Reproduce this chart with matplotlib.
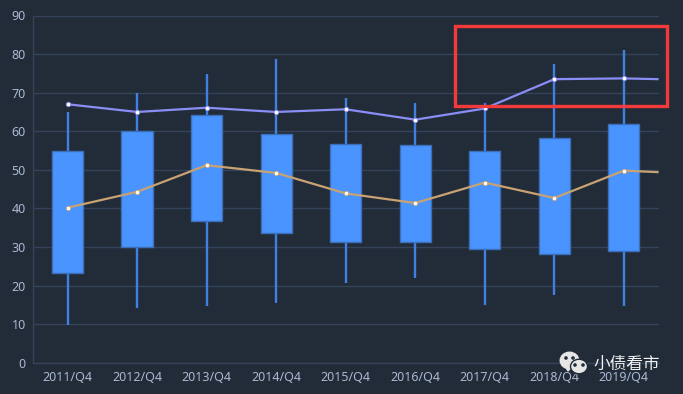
import matplotlib
matplotlib.use("Agg")
import matplotlib.pyplot as plt
from matplotlib.patches import Rectangle, Ellipse, Polygon

categories = ["2011/Q4", "2012/Q4", "2013/Q4", "2014/Q4", "2015/Q4", "2016/Q4", "2017/Q4", "2018/Q4", "2019/Q4"]
box_top = [54.8, 60.0, 64.3, 59.3, 56.8, 56.4, 54.8, 58.3, 62.0]
box_bottom = [23.4, 30.0, 36.7, 33.7, 31.3, 31.2, 29.5, 28.2, 29.0]
whisker_high = [65.0, 70.0, 74.8, 78.8, 68.5, 67.3, 67.3, 77.5, 81.0]
whisker_low = [9.8, 14.2, 14.7, 15.5, 20.7, 22.0, 15.0, 17.5, 14.6]
purple_line = [67.0, 65.0, 66.1, 65.0, 65.7, 63.0, 65.9, 73.5, 73.7]
tan_line = [40.2, 44.3, 51.2, 49.2, 43.9, 41.4, 46.7, 42.7, 49.8]
purple_end = 73.5
tan_end = 49.4
y_ticks = [0, 10, 20, 30, 40, 50, 60, 70, 80, 90]

BG = "#222c38"
GRID = "#34425a"
TXT = "#a9b9d3"

W, H = 683, 394
fig = plt.figure(figsize=(W / 100, H / 100), dpi=100, facecolor=BG)
ax = fig.add_axes([32.8 / W, 1 - 362.8 / H, (658.6 - 32.8) / W, (362.8 - 15.5) / H], facecolor=BG)
ax.set_xlim(-0.5, 8.5)
ax.set_ylim(0, 90)

xs = list(range(len(categories)))
ax.set_yticks(y_ticks)
ax.set_xticks(xs)
ax.set_xticklabels(categories)
ax.tick_params(length=0, labelcolor=TXT, labelsize=9, pad=5)
ax.tick_params(axis="x", pad=6)
for lab in ax.get_xticklabels() + ax.get_yticklabels():
    lab.set_fontfamily("Noto Sans")
ax.grid(axis="y", color=GRID, linewidth=1)
ax.set_axisbelow(True)
for s in ("top", "right"):
    ax.spines[s].set_visible(False)
for s in ("left", "bottom"):
    ax.spines[s].set_color(GRID)
    ax.spines[s].set_linewidth(1)

ax.vlines(xs, whisker_low, whisker_high, color="#3f80e2", linewidth=1.7, zorder=2)
ax.bar(xs, [t - b for t, b in zip(box_top, box_bottom)], bottom=box_bottom, width=0.45,
       color="#4a94ff", edgecolor="#3b6fb8", linewidth=1, zorder=3)

for vals, end, col in ((purple_line, purple_end, "#8a8df5"), (tan_line, tan_end, "#c8a272")):
    ax.plot(xs + [8.5], vals + [end], color=col, linewidth=1.6, zorder=4, solid_capstyle="butt")
    ax.plot(xs, vals, linestyle="none", marker="o", markersize=3.2, markerfacecolor="white",
            markeredgecolor=col, markeredgewidth=0.6, zorder=5)

# Overlay in pixel coordinates: annotation box and watermark
ov = fig.add_axes([0, 0, 1, 1], facecolor="none")
ov.set_xlim(0, W)
ov.set_ylim(H, 0)
ov.axis("off")
ov.add_patch(Rectangle((455.2, 26.2), 212, 80, fill=False, edgecolor="#f23a3a", linewidth=2.4))

ICON = "#e6e6e6"
ov.add_patch(Ellipse((569.5, 360.5), 18.5, 16.5, color=ICON, zorder=6))
ov.add_patch(Polygon([[565, 366], [568, 371], [572, 366]], color=ICON, zorder=6))
ov.add_patch(Ellipse((579, 366.5), 17, 14.5, facecolor=ICON, edgecolor=BG, linewidth=1, zorder=7))
for x, y in ((566, 358), (573, 358), (575, 365), (583, 365)):
    ov.add_patch(Ellipse((x, y), 2.2, 2.2, color=BG, zorder=8))
ov.text(593, 364, "小债看市", color="#f2f2f2", fontsize=12, va="center", ha="left",
        family=["Noto Sans CJK SC", "DejaVu Sans"], zorder=8)

fig.savefig("out.png", dpi=100, facecolor=BG)
